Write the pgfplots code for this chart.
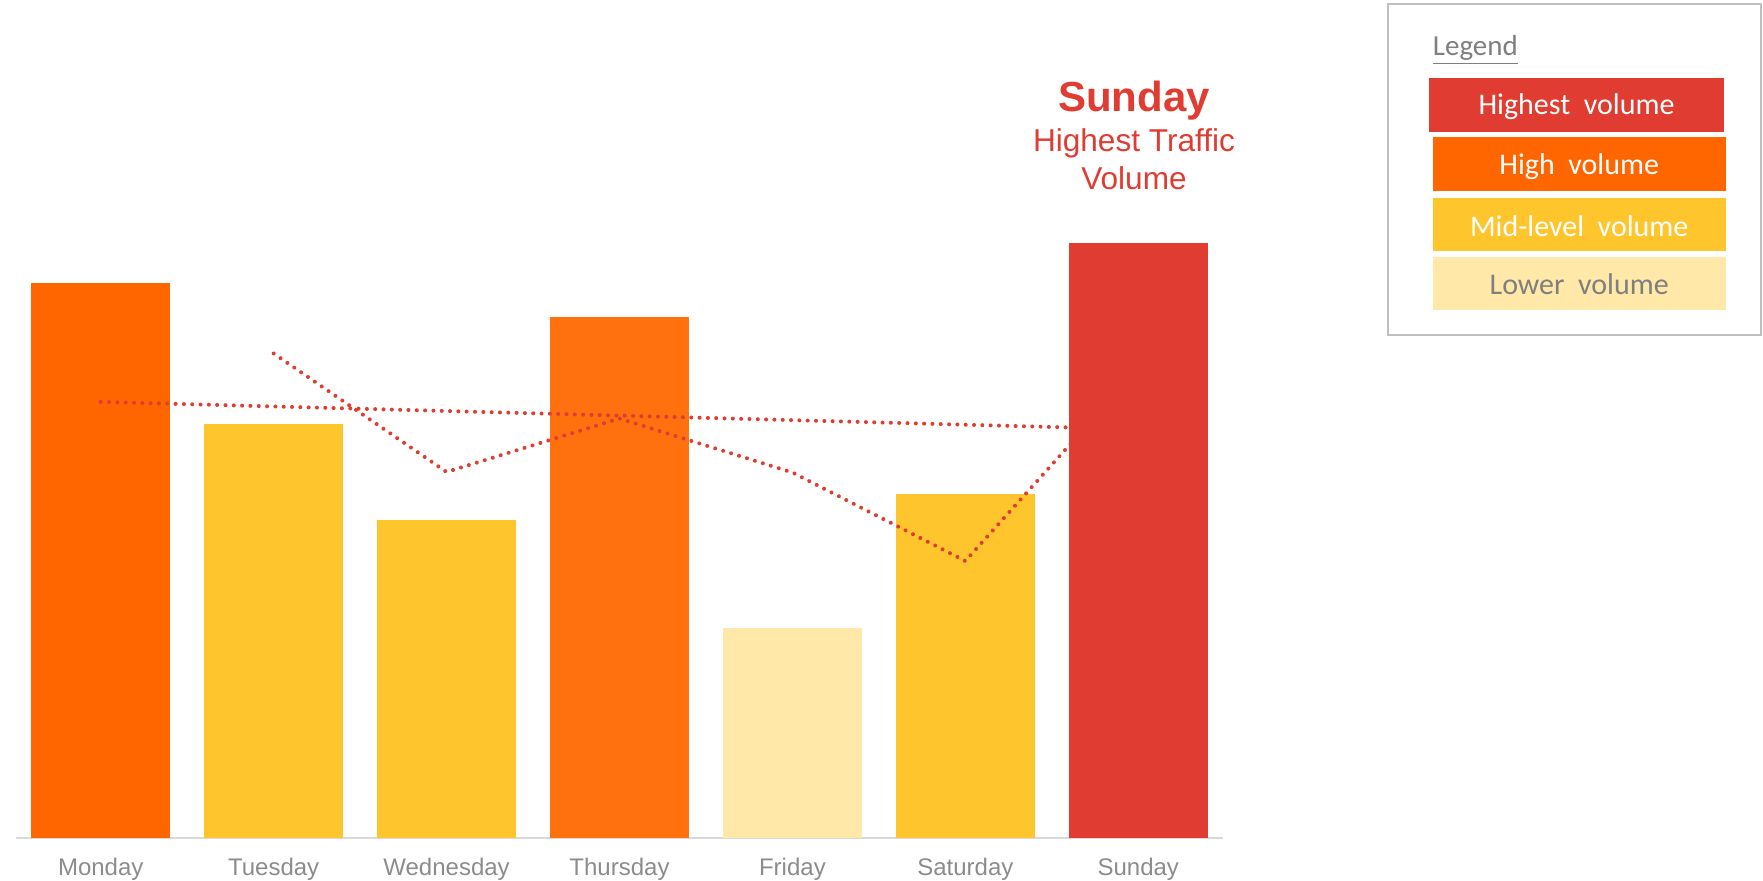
\documentclass[border=0pt]{standalone}
\usepackage{pgfplots}
\pgfplotsset{compat=1.18}
\usepackage{fontspec}
\setmainfont{Liberation Sans}
\newfontfamily\calibri{Carlito}
\definecolor{cRed}{HTML}{E03C31}
\definecolor{cOrange}{HTML}{FF6600}
\definecolor{cOrangeB}{HTML}{FF700F}
\definecolor{cMid}{HTML}{FFC52D}
\definecolor{cLow}{HTML}{FFE8A8}
\definecolor{cTick}{HTML}{8C8C8C}
\definecolor{cAxis}{HTML}{D9D9D9}
\definecolor{cBox}{HTML}{BFBFBF}
\definecolor{cLeg}{HTML}{7F7F7F}
\begin{document}
\begin{tikzpicture}
\useasboundingbox (0,0) rectangle (881.5pt,440.5pt);
\begin{axis}[
  at={(8pt,21.5pt)}, anchor=south west,
  scale only axis, width=603.5pt, height=350pt,
  xmin=-0.49, xmax=6.49, ymin=0, ymax=700,
  axis x line*=bottom, axis y line=none,
  x axis line style={draw=cAxis, line width=1pt, -},
  xtick={0,1,2,3,4,5,6},
  xticklabels={Monday,Tuesday,Wednesday,Thursday,Friday,Saturday,Sunday},
  major tick length=0pt,
  xticklabel style={font=\fontsize{12}{14}\selectfont, text=cTick, anchor=center, yshift=-15.5pt},
  clip=false,
]
\addplot[ybar, bar shift=0pt, bar width=0.806, fill=cOrange, draw=none] coordinates {(0,555)};
\addplot[ybar, bar shift=0pt, bar width=0.806, fill=cMid, draw=none] coordinates {(1,414)};
\addplot[ybar, bar shift=0pt, bar width=0.806, fill=cMid, draw=none] coordinates {(2,318)};
\addplot[ybar, bar shift=0pt, bar width=0.806, fill=cOrangeB, draw=none] coordinates {(3,521)};
\addplot[ybar, bar shift=0pt, bar width=0.806, fill=cLow, draw=none] coordinates {(4,210)};
\addplot[ybar, bar shift=0pt, bar width=0.806, fill=cMid, draw=none] coordinates {(5,344)};
% linear trend
\addplot[cRed, line width=2pt, line cap=round, dash pattern=on 0.01pt off 4.15pt] coordinates {(0,436.1) (6,408.7)};
% 2-period moving average
\addplot[cRed, line width=2pt, line cap=round, dash pattern=on 0.01pt off 4.15pt] coordinates {(1,484.5) (2,366) (3,419.5) (4,365.5) (5,277) (6,469.5)};
\addplot[ybar, bar shift=0pt, bar width=0.806, fill=cRed, draw=none] coordinates {(6,595)};
\end{axis}
% annotation
\node[text=cRed, font=\bfseries\fontsize{21}{24}\selectfont] at (567pt,390.3pt) {Sunday};
\node[text=cRed, font=\fontsize{15.8}{18}\selectfont] at (567pt,368.6pt) {Highest Traffic};
\node[text=cRed, font=\fontsize{15.8}{18}\selectfont] at (567pt,351.6pt) {Volume};
% legend box
\draw[cBox, line width=1pt] (693.75pt,273pt) rectangle (880.5pt,438.25pt);
\node[anchor=west, text=cLeg, font=\calibri\fontsize{14.5}{16}\selectfont, inner sep=0pt] at (716.25pt,415.3pt) {\underline{Legend}};
\fill[cRed] (714.5pt,374.7pt) rectangle (862pt,401.7pt);
\fill[cOrange] (716.25pt,345pt) rectangle (863pt,372pt);
\fill[cMid] (716.25pt,315pt) rectangle (863pt,341.5pt);
\fill[cLow] (716.25pt,285.5pt) rectangle (863pt,311.75pt);
\node[text=white, font=\calibri\fontsize{15}{17}\selectfont] at (788.25pt,387pt) {Highest\ \ volume};
\node[text=white, font=\calibri\fontsize{15}{17}\selectfont] at (789.6pt,357pt) {High\ \ volume};
\node[text=white, font=\calibri\fontsize{15}{17}\selectfont] at (789.6pt,327.6pt) {Mid-level\ \ volume};
\node[text=cLeg, font=\calibri\fontsize{15}{17}\selectfont] at (789.6pt,298.6pt) {Lower\ \ volume};
\end{tikzpicture}
\end{document}
